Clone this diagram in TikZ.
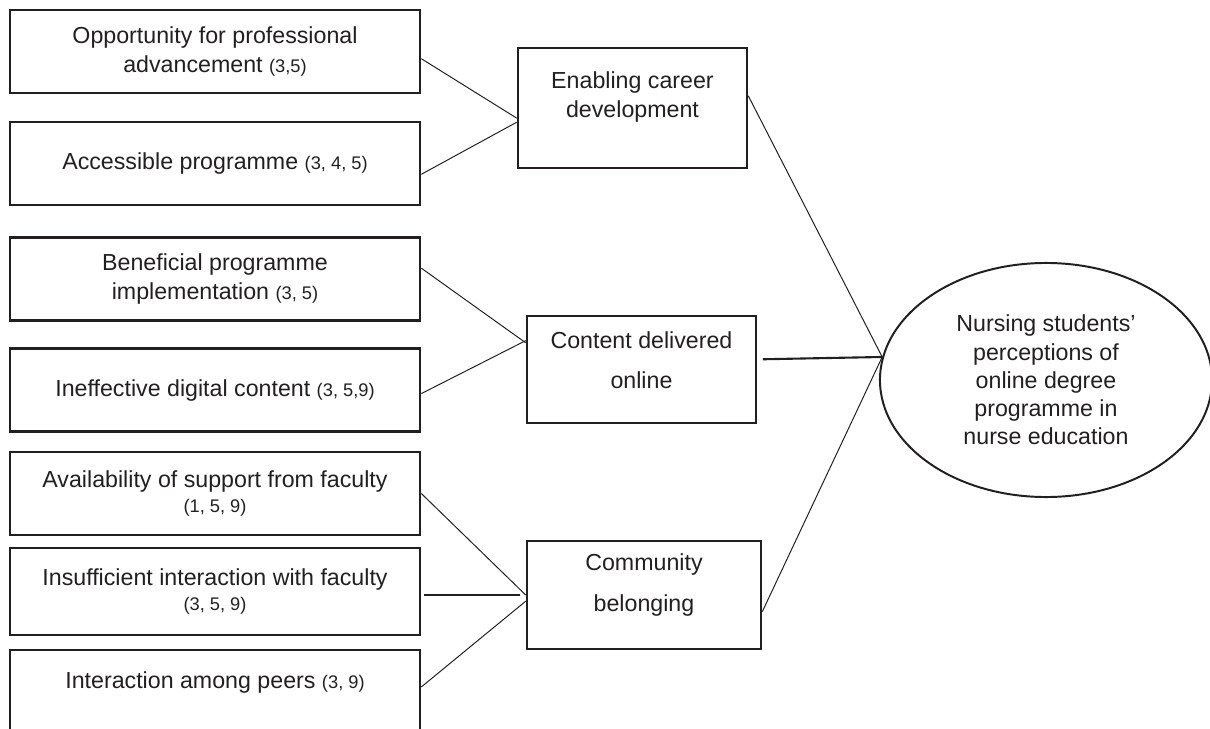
\documentclass[tikz,border=0pt]{standalone}
\usepackage{fontspec}
\setmainfont{Liberation Sans}
\usepackage{tikz}
\usetikzlibrary{shapes.geometric}
\usetikzlibrary{positioning}
\definecolor{ink}{HTML}{231F20}
\newcommand{\studies}[1]{{\fontsize{13}{15}\selectfont(#1)}}
\tikzset{
	themebox/.style = {draw=ink, line width=1.8pt, rectangle, minimum width=10.25cm, minimum height=2.075cm, align=center, inner sep=0pt},
	catbox/.style = {draw=ink, line width=1.8pt, rectangle, inner sep=0pt},
	}

\begin{document}
\begin{tikzpicture}
		[x=0.025cm, y=-0.025cm,
		text=ink,
		every node/.style={font=\fontsize{16.5}{20}\selectfont},
		link/.style = {draw=ink, line width=0.7pt},
		boldlink/.style = {draw=ink, line width=1.5pt}
		]
	\useasboundingbox (0,0) rectangle (1210,729);

	% sub-themes
	\node[themebox] (opp) at (215,51.5) {Opportunity for professional\\advancement \studies{3,5}};
	\node[themebox] (acc) at (215,163.5) {Accessible programme \studies{3, 4, 5}};
	\node[themebox] (ben) at (215,279) {Beneficial programme\\implementation \studies{3, 5}};
	\node[themebox] (ineff) at (215,390) {Ineffective digital content \studies{3, 5,9}};
	\node[themebox] (avail) at (215,493.5) {Availability of support from faculty\\[-2pt]\studies{1, 5, 9}};
	\node[themebox, minimum height=2.175cm] (insuff) at (215,591.5) {Insufficient interaction with faculty\\[-2pt]\studies{3, 5, 9}};
	\node[themebox, minimum height=2.75cm, label={[yshift=0.575cm]center:Interaction among peers \studies{3, 9}}] (peers) at (215,705) {};

	% themes
	\node[catbox, minimum width=5.725cm, minimum height=3cm, label={[align=center, yshift=0.275cm]center:Enabling career\\development}] (career) at (632.5,108) {};
	\node[catbox, minimum width=5.725cm, minimum height=2.675cm, label={[align=center, yshift=0.24cm]center:Content delivered\\[8.5pt]online}] (content) at (641.5,369.5) {};
	\node[catbox, minimum width=5.85cm, minimum height=2.7cm, label={[align=center, yshift=0.25cm]center:Community\\[8.5pt]belonging}] (community) at (644,595) {};

	\node[draw=ink, line width=1.4pt, ellipse, minimum width=8.3cm, minimum height=5.85cm, inner sep=0pt, align=center, font=\fontsize{16.5}{20.1}\selectfont] (percep) at (1046,380) {Nursing students'\\perceptions of\\online degree\\programme in\\nurse education};

	\draw[link] (opp.-2) -- (career.185);
	\draw[link] (acc.-3) -- (career.187);
	\draw[link] (career.6) -- (percep.172);

	\draw[link] (ben.3) -- (content.167);
	\draw[link] (ineff.-1) -- (content.166);
	\draw[boldlink, shorten <=4pt] (content.5) -- (percep.172);

	\draw[link] (avail.east) -- (community.west);
	\draw[boldlink, shorten <=2pt, shorten >=4pt] (insuff.east |- community.west) -- (community.west);
	\draw[link] (peers.5) -- (community.183);
	\draw[link] (community.-8) -- (percep.172);
\end{tikzpicture}
\end{document}
